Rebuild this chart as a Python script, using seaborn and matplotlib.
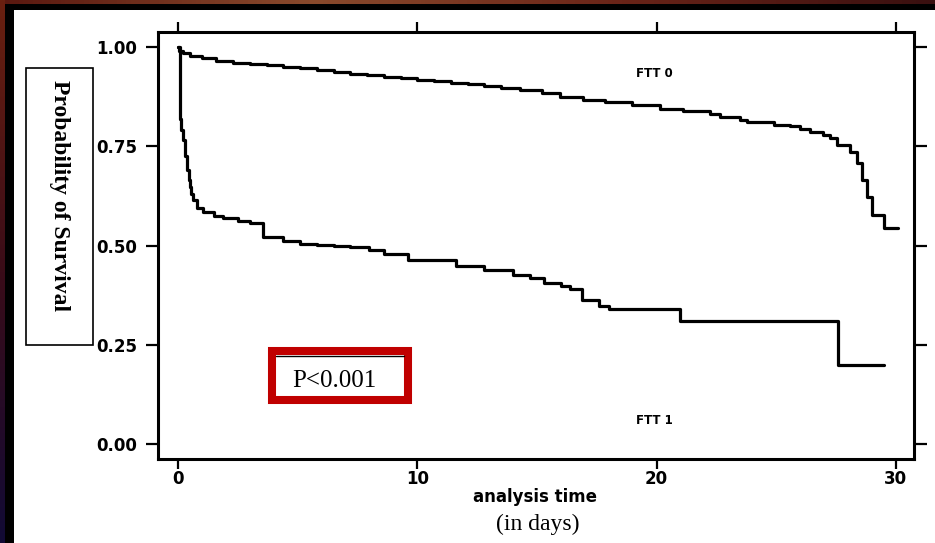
import numpy as np
import pandas as pd
import matplotlib.pyplot as plt
import seaborn as sns
from matplotlib.patches import Rectangle
from matplotlib.lines import Line2D

# survival curves (step functions)
time_ftt0 = [0, 0.05, 0.2, 0.5, 1.0, 1.6, 2.3, 3.0, 3.7, 4.4, 5.1, 5.8, 6.5, 7.2, 7.9, 8.6,
             9.3, 10.0, 10.7, 11.4, 12.1, 12.8, 13.5, 14.3, 15.2, 15.96, 16.94, 17.84,
             18.96, 20.14, 21.12, 22.24, 22.65, 23.49, 23.77, 24.89, 25.58, 26.0, 26.4,
             26.97, 27.25, 27.53, 28.09, 28.4, 28.6, 28.8, 29.0, 29.5, 30.1]
surv_ftt0 = [1.0, 0.99, 0.985, 0.978, 0.972, 0.965, 0.96, 0.957, 0.954, 0.951, 0.947, 0.942,
             0.937, 0.933, 0.929, 0.925, 0.921, 0.918, 0.914, 0.91, 0.906, 0.902, 0.898,
             0.893, 0.885, 0.873, 0.866, 0.862, 0.853, 0.845, 0.839, 0.831, 0.823, 0.817,
             0.81, 0.804, 0.8, 0.794, 0.786, 0.778, 0.77, 0.753, 0.736, 0.708, 0.665,
             0.622, 0.576, 0.544, 0.544]
time_ftt1 = [0, 0.08, 0.14, 0.2, 0.28, 0.37, 0.44, 0.5, 0.56, 0.63, 0.8, 1.05, 1.5, 1.9,
             2.5, 3.0, 3.55, 4.4, 5.1, 5.8, 6.5, 7.2, 8.0, 8.6, 9.6, 11.6, 12.8, 14.0,
             14.7, 15.3, 16.0, 16.4, 16.9, 17.6, 18.0, 21.0, 27.6, 29.5]
surv_ftt1 = [1.0, 0.82, 0.79, 0.766, 0.725, 0.69, 0.665, 0.647, 0.63, 0.615, 0.595, 0.584,
             0.575, 0.569, 0.563, 0.557, 0.521, 0.511, 0.505, 0.501, 0.498, 0.496, 0.489,
             0.479, 0.463, 0.448, 0.438, 0.425, 0.418, 0.405, 0.397, 0.39, 0.363, 0.348,
             0.34, 0.31, 0.2, 0.2]

x_ticks = [0, 10, 20, 30]
y_ticks = [0.0, 0.25, 0.5, 0.75, 1.0]
y_ticklabels = ['0.00', '0.25', '0.50', '0.75', '1.00']

df = pd.concat([
    pd.DataFrame({'time': time_ftt0, 'surv': surv_ftt0, 'group': 'FTT 0'}),
    pd.DataFrame({'time': time_ftt1, 'surv': surv_ftt1, 'group': 'FTT 1'}),
])

sns.set_style('ticks')
plt.rcParams['font.family'] = ['DejaVu Sans']
plt.rcParams['text.color'] = 'black'
plt.rcParams['axes.labelcolor'] = 'black'
plt.rcParams['xtick.color'] = 'black'
plt.rcParams['ytick.color'] = 'black'

fig = plt.figure(figsize=(9.35, 5.43), dpi=100)
fig.patch.set_facecolor('black')

# dark slide frame with thin coloured edges
bg = fig.add_axes([0, 0, 1, 1], zorder=-5)
bg.axis('off')
bg.set_xlim(0, 935)
bg.set_ylim(543, 0)
top_grad = np.linspace(0, 1, 200).reshape(1, -1)
bg.imshow(top_grad, extent=(0, 935, 4, 0), aspect='auto',
          cmap=sns.blend_palette(['#5a1810', '#8a4a2c', '#6a2418', '#3a1010'], as_cmap=True))
left_grad = np.linspace(0, 1, 200).reshape(-1, 1)
bg.imshow(left_grad, extent=(0, 5, 543, 0), aspect='auto',
          cmap=sns.blend_palette(['#6a2010', '#3a0c18', '#120a35'], as_cmap=True))
bg.add_patch(Rectangle((14, 10), 921, 533, facecolor='white', edgecolor='none'))

ax = fig.add_axes([0.169, 0.1556, 0.809, 0.7855])
ax.set_facecolor('white')
sns.lineplot(data=df, x='time', y='surv', hue='group', palette=['black', 'black'],
             estimator=None, drawstyle='steps-post', linewidth=2.3, legend=False, ax=ax)

ax.set_xlim(-0.836, 30.78)
ax.set_ylim(-0.0365, 1.038)
ax.set_xticks(x_ticks)
ax.set_yticks(y_ticks)
ax.set_yticklabels(y_ticklabels)
ax.set_xlabel('')
ax.set_ylabel('')
for s in ax.spines.values():
    s.set_visible(True)
    s.set_linewidth(2.2)
    s.set_color('black')
ax.tick_params(axis='x', which='both', top=True, bottom=True, labeltop=False,
               direction='out', length=7, width=1.6, pad=1.5, labelsize=12, colors='black')
ax.tick_params(axis='y', which='both', left=True, right=True, labelright=False,
               direction='out', length=9, width=1.6, pad=6, labelsize=12, colors='black')
for lab in ax.get_xticklabels() + ax.get_yticklabels():
    lab.set_fontweight('bold')

ax.text(19.93, 0.934, 'FTT 0', fontsize=8.5, fontweight='bold', ha='center', va='center')
ax.text(19.9, 0.06, 'FTT 1', fontsize=8.5, fontweight='bold', ha='center', va='center')

# x axis titles
fig.text(535 / 935, 1 - 497 / 543, 'analysis time', fontsize=12, fontweight='bold',
         ha='center', va='center')
fig.text(538 / 935, 1 - 524 / 543, '(in days)', fontsize=17, family='Liberation Serif',
         ha='center', va='center')

# boxed y axis title
fig.patches.append(Rectangle((26 / 935, 1 - 345 / 543), 67 / 935, 277 / 543,
                             transform=fig.transFigure, facecolor='white',
                             edgecolor='black', linewidth=1.2, zorder=3))
fig.text(59.5 / 935, 1 - 196 / 543, 'Probability of Survival', fontsize=17,
         family='Liberation Serif', fontweight='bold', rotation=-90,
         ha='center', va='center', zorder=4)

# red highlighted p-value box
fig.patches.append(Rectangle((272 / 935, 1 - 400 / 543), 136 / 935, 49 / 543,
                             transform=fig.transFigure, facecolor='white',
                             edgecolor='#c00000', linewidth=5.8, zorder=3))
fig.lines.append(Line2D([276 / 935, 404 / 935], [1 - 356 / 543, 1 - 356 / 543],
                        transform=fig.transFigure, color='black', linewidth=1.0, zorder=4))
fig.text(334 / 935, 1 - 381 / 543, 'P<0.001', fontsize=18, family='Liberation Serif',
         ha='center', va='center', zorder=5)

fig.savefig('out.png', dpi=100, facecolor=fig.get_facecolor())
